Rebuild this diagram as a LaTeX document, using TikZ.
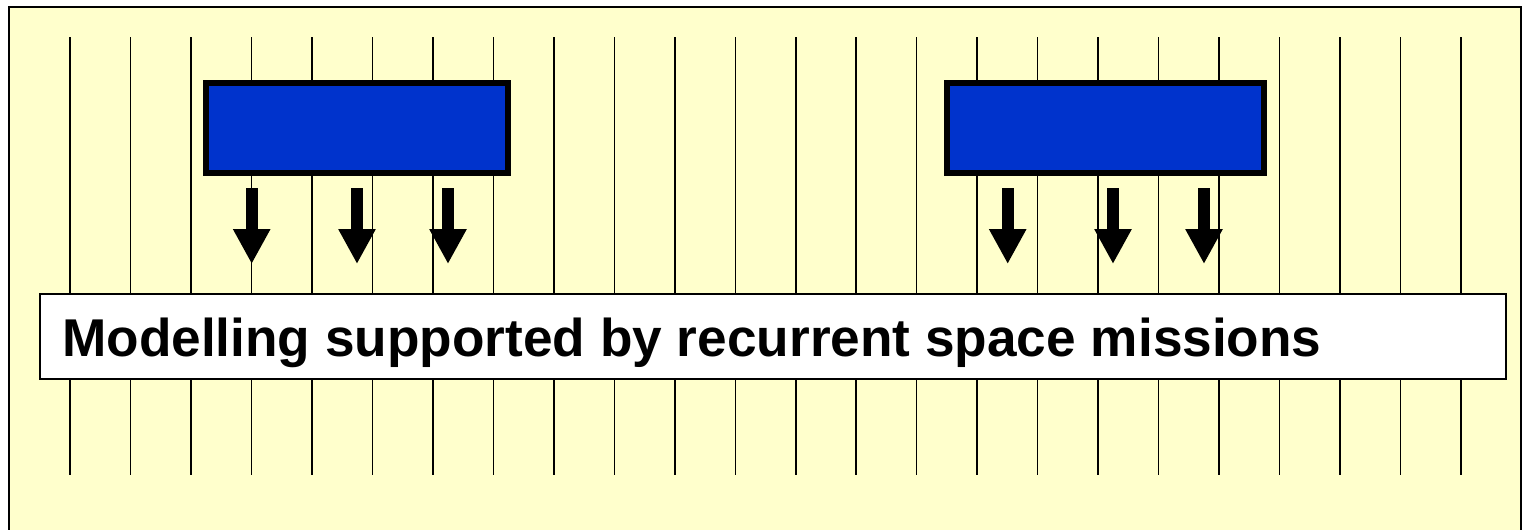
\documentclass[tikz,border=0pt]{standalone}
\usepackage{fontspec}
\setmainfont{Liberation Sans}
\usetikzlibrary{arrows.meta}
\definecolor{paleyellow}{HTML}{FFFFCC}
\definecolor{boxblue}{HTML}{0033CC}
\tikzset{
  gridline/.style={draw=black, line width=1.5pt},
  bluebox/.style={draw=black, fill=boxblue, line width=6pt, rectangle, inner sep=0pt},
  whitebox/.style={draw=black, fill=white, line width=1.6pt, rectangle, inner sep=0pt},
  blockarrow/.style={draw=black, line width=12pt, -{Triangle[width=35pt,length=35pt]}},
  label/.style={font=\fontsize{53.2}{60}\selectfont\bfseries, anchor=base west, inner sep=0pt}
}
\begin{document}
\begin{tikzpicture}[x=1pt,y=-1pt]
\useasboundingbox (0,0) rectangle (1527,530);
\fill[paleyellow] (9,7) rectangle (1521,530);
\draw[line width=2.4pt] (9,532) -- (9,7) -- (1521,7) -- (1521,532);
% grid lines
\foreach \i in {0,...,23} {
  \draw[gridline] ({70+60.48*\i},37) -- ({70+60.48*\i},475);
}
% boxes
\node[bluebox, minimum width=302pt, minimum height=90pt] (b1) at (357,128) {};
\node[bluebox, minimum width=317pt, minimum height=90pt] (b2) at (1105.5,128) {};
\node[whitebox, minimum width=1466pt, minimum height=85pt] (wb) at (773,336.5) {};
\node[label] (t) at (62,356) {Modelling supported by recurrent space missions};
% arrows
\foreach \x [count=\k] in {251.7,357,448,1007.7,1113,1204} {
  \coordinate (s\k) at (\x,188);
  \coordinate (e\k) at (\x,264);
  \draw[blockarrow] (s\k) -- (e\k);
}
\end{tikzpicture}
\end{document}
